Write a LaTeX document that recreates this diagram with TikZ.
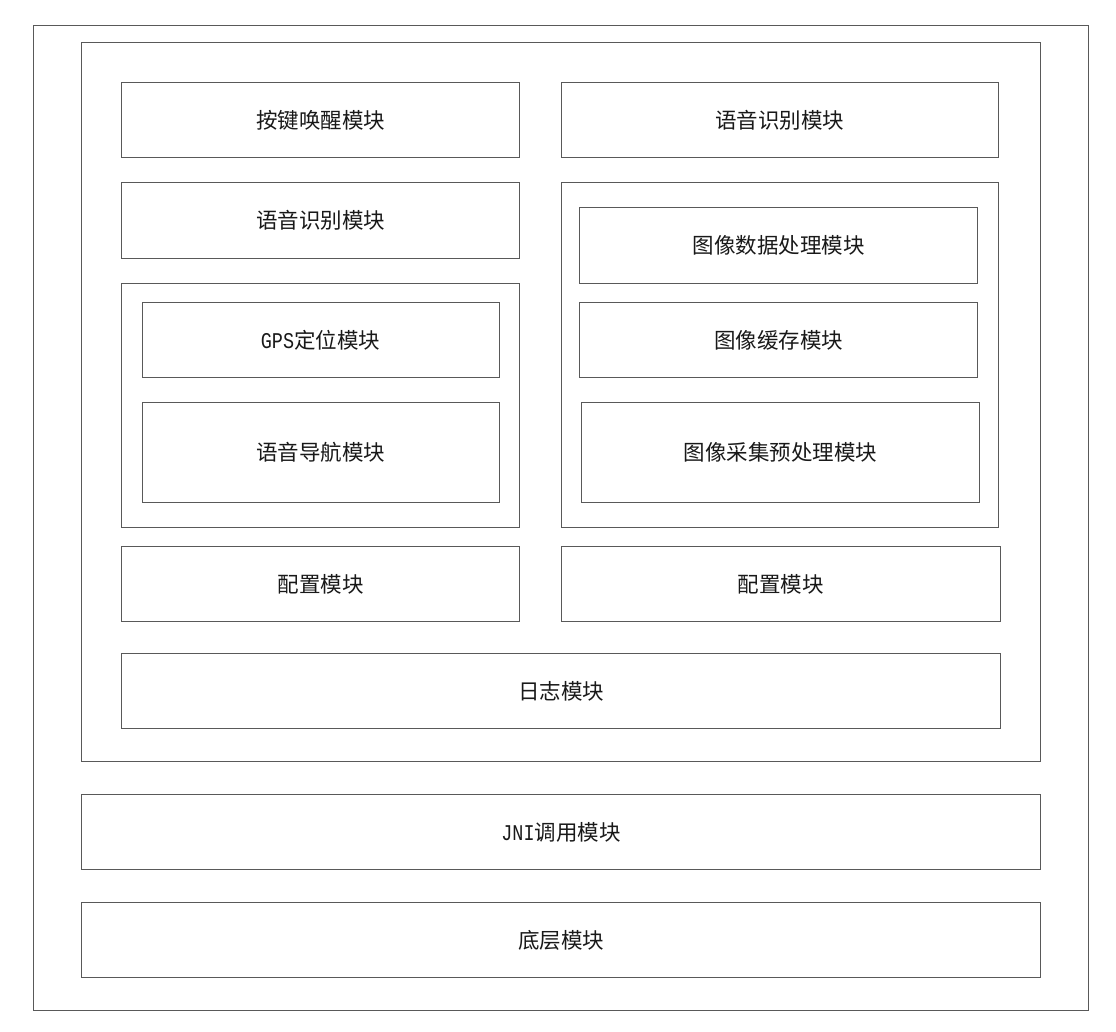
\documentclass[tikz,border=0pt]{standalone}
\usepackage{fontspec}
\setmainfont{Noto Sans CJK SC}
\newfontfamily\latfont[FakeStretch=0.82]{Liberation Mono}
\newcommand{\lat}[1]{{\latfont\fontsize{22.5}{22.5}\selectfont #1}}
\begin{document}
\begin{tikzpicture}[x={(1pt,0)},y={(0,-1pt)},
  box/.style={draw=black!65, line width=1pt, anchor=north west, inner sep=0pt, outer sep=0pt,
    font=\fontsize{21.5}{21.5}\selectfont, text=black!90}]
\useasboundingbox (0,0) rectangle (1116,1032);
\newcommand{\bx}[6]{\node[box, minimum width={(#4-#2)*1pt}, minimum height={(#5-#3)*1pt}] (#1) at (#2,#3) {#6};}
\bx{outer}{33.5}{26}{1088}{1010.5}{}
\bx{inner}{81.5}{43}{1040.5}{761.5}{}
\bx{wake}{121.5}{82.5}{519.5}{157.5}{按键唤醒模块}
\bx{asrR}{561}{82.5}{998.5}{157.5}{语音识别模块}
\bx{asrL}{121.5}{182.5}{519.5}{258.5}{语音识别模块}
\bx{lgrp}{121.5}{283.5}{519.5}{527.5}{}
\bx{gps}{142}{302.5}{499}{377.5}{\lat{GPS}定位模块}
\bx{nav}{142}{402.5}{499}{502.5}{语音导航模块}
\bx{rgrp}{561}{182.5}{998.5}{527.5}{}
\bx{imgdata}{579.5}{208}{977.5}{283.5}{图像数据处理模块}
\bx{cache}{579.5}{302.5}{977.5}{377.5}{图像缓存模块}
\bx{acq}{581.5}{402.5}{979.5}{502.5}{图像采集预处理模块}
\bx{cfgL}{121.5}{546.5}{519.5}{621.5}{配置模块}
\bx{cfgR}{561}{546.5}{1000.5}{621.5}{配置模块}
\bx{log}{121.5}{653.5}{1000.5}{728.5}{日志模块}
\bx{jni}{81.5}{794.5}{1040.5}{869.5}{\lat{JNI}调用模块}
\bx{base}{81.5}{902.5}{1040.5}{977.5}{底层模块}
\end{tikzpicture}
\end{document}
